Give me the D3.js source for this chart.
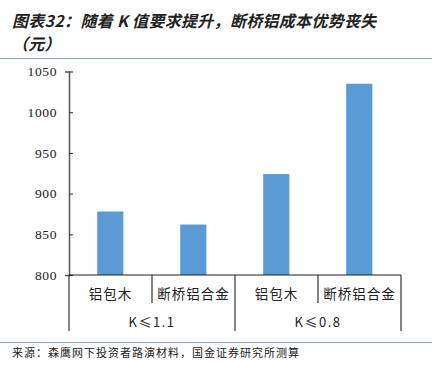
<!DOCTYPE html>
<html>
<head>
<meta charset="utf-8">
<script src="https://cdn.jsdelivr.net/npm/d3@7"></script>
<style>
  body { margin: 0; background: #fff; }
  svg { display: block; }
</style>
</head>
<body>
<div id="chart"></div>
<script>
const groups = ['K≤1.1', 'K≤0.8'];
const categories = ['铝包木', '断桥铝合金', '铝包木', '断桥铝合金'];
const groupOf = [0, 0, 1, 1];
const values = [878, 862, 924, 1035];
const yTicks = [800, 850, 900, 950, 1000, 1050];

const W = 432, H = 370;
const cjk = '"Noto Sans CJK SC", "Noto Sans", sans-serif';
const serif = '"Liberation Serif", "DejaVu Serif", serif';

const svg = d3.select('#chart').append('svg')
  .attr('width', W).attr('height', H);

// title
const title = svg.append('g')
  .attr('font-family', cjk)
  .attr('font-size', 16)
  .attr('font-style', 'italic')
  .attr('font-weight', 'bold')
  .attr('letter-spacing', 0.3)
  .attr('fill', '#222');
title.append('text').attr('x', 12).attr('y', 27).text('图表32：随着 K 值要求提升，断桥铝成本优势丧失');
title.append('text').attr('x', 12).attr('y', 50).text('（元）');

svg.append('line')
  .attr('x1', 0).attr('x2', W).attr('y1', 58.5).attr('y2', 58.5)
  .attr('stroke', '#8aa5bd').attr('stroke-width', 1);

// plot
const x = d3.scaleBand().domain(d3.range(categories.length)).range([69, 401]).paddingInner(0).paddingOuter(0);
const y = d3.scaleLinear().domain([800, 1050]).range([275, 71.5]);

svg.append('g')
  .selectAll('rect')
  .data(values)
  .join('rect')
  .attr('x', (d, i) => x(i) + x.bandwidth() * 0.34)
  .attr('width', x.bandwidth() * 0.315)
  .attr('y', d => y(d))
  .attr('height', d => y(800) - y(d))
  .attr('fill', '#5b9bd5');

// y axis
const yAxis = svg.append('g')
  .attr('transform', 'translate(69,0)')
  .call(d3.axisLeft(y).tickValues(yTicks).tickSize(4).tickPadding(8).tickFormat(d3.format('d')));
yAxis.select('.domain').attr('stroke', '#555').attr('stroke-width', 1.5);
yAxis.selectAll('.tick line').attr('stroke', '#333').attr('x2', 4).attr('x1', 0);
yAxis.selectAll('text')
  .attr('font-family', serif).attr('font-size', 13.5).attr('letter-spacing', 0.6).attr('fill', '#222');

// x axis baseline
svg.append('line')
  .attr('x1', 69).attr('x2', 401).attr('y1', 275).attr('y2', 275)
  .attr('stroke', '#222').attr('stroke-width', 1.2);

// category separators
const bounds = d3.range(categories.length + 1).map(i => i < categories.length ? x(i) : x.range()[1]);
svg.append('g')
  .selectAll('line')
  .data(bounds)
  .join('line')
  .attr('x1', d => d).attr('x2', d => d)
  .attr('y1', 275)
  .attr('y2', (d, i) => (i % 2 === 0 ? 331 : 303))
  .attr('stroke', '#333').attr('stroke-width', 1.2);

// category labels
svg.append('g')
  .selectAll('text')
  .data(categories)
  .join('text')
  .attr('x', (d, i) => x(i) + x.bandwidth() / 2)
  .attr('y', 299)
  .attr('text-anchor', 'middle')
  .attr('font-family', cjk)
  .attr('font-size', 13.5)
  .attr('letter-spacing', 1)
  .attr('fill', '#222')
  .text(d => d);

// group labels
svg.append('g')
  .selectAll('text')
  .data(groups)
  .join('text')
  .attr('x', (d, g) => {
    const idx = groupOf.map((v, i) => v === g ? i : -1).filter(i => i >= 0);
    return (x(idx[0]) + x(idx[idx.length - 1]) + x.bandwidth()) / 2;
  })
  .attr('y', 327)
  .attr('text-anchor', 'middle')
  .attr('font-family', cjk)
  .attr('font-size', 13)
  .attr('letter-spacing', 1.5)
  .attr('fill', '#222')
  .text(d => d);

// source
svg.append('line')
  .attr('x1', 0).attr('x2', W).attr('y1', 342.5).attr('y2', 342.5)
  .attr('stroke', '#8aa5bd').attr('stroke-width', 1);
svg.append('text')
  .attr('x', 12).attr('y', 357)
  .attr('font-family', cjk).attr('font-size', 11).attr('letter-spacing', 1)
  .attr('fill', '#222')
  .text('来源：森鹰网下投资者路演材料，国金证券研究所测算');
</script>
</body>
</html>
